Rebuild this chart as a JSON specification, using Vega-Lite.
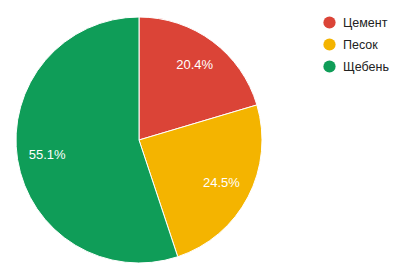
{
  "$schema": "https://vega.github.io/schema/vega-lite/v6.json",
  "width": 278,
  "height": 280,
  "autosize": "none",
  "padding": {"left": 0, "top": 0, "right": 135, "bottom": 0},
  "background": "white",
  "config": {"view": {"stroke": null}, "font": "Liberation Sans"},
  "data": {"values": [
    {"material": "Цемент", "share": 20.4, "ord": 1, "label": "20.4%"},
    {"material": "Песок", "share": 24.5, "ord": 2, "label": "24.5%"},
    {"material": "Щебень", "share": 55.1, "ord": 3, "label": "55.1%"}
  ]},
  "encoding": {
    "theta": {"field": "share", "type": "quantitative", "stack": true},
    "order": {"field": "ord", "type": "quantitative"}
  },
  "layer": [
    {
      "mark": {"type": "arc", "outerRadius": 123, "stroke": "white", "strokeWidth": 1},
      "encoding": {
        "color": {
          "field": "material", "type": "nominal",
          "scale": {"domain": ["Цемент", "Песок", "Щебень"], "range": ["#DB4437", "#F4B400", "#0F9D58"]},
          "legend": {
            "title": null, "orient": "none", "legendX": 323, "legendY": 16,
            "symbolType": "circle", "symbolSize": 150, "symbolStrokeWidth": 0,
            "labelFontSize": 12.5, "labelColor": "#222222", "labelFont": "Liberation Sans",
            "rowPadding": 9, "labelOffset": 7
          }
        }
      }
    },
    {
      "mark": {"type": "text", "radius": 93, "fontSize": 13, "fill": "white", "font": "Liberation Sans"},
      "encoding": {"text": {"field": "label", "type": "nominal"}}
    }
  ]
}
